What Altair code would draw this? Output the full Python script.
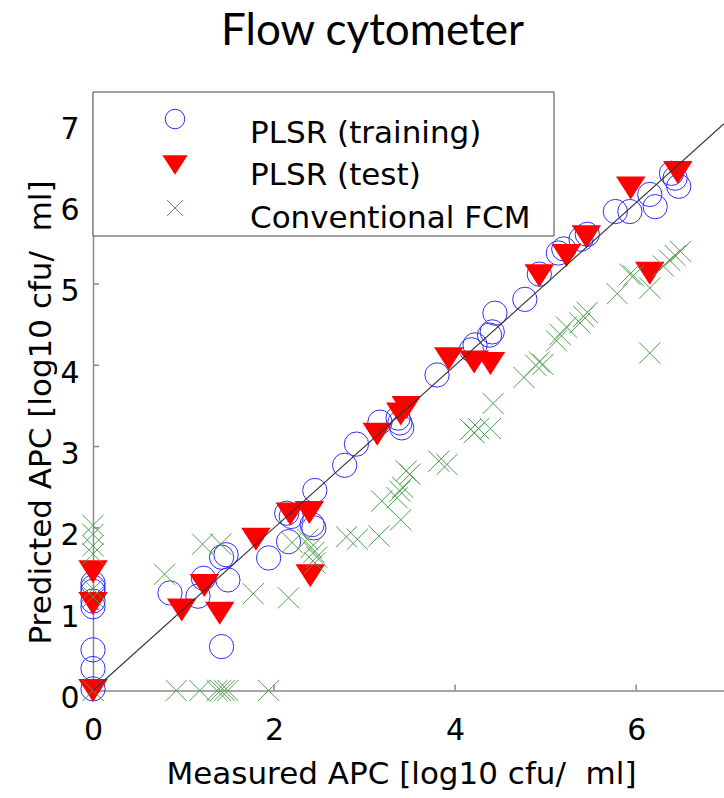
import altair as alt
import pandas as pd

# Measured vs predicted APC (log10 cfu/ml)
train_measured = [0, 0, 0, 0, 0, 0, 0, 0,
                  0.85, 1.16, 1.22, 1.42, 1.42, 1.47, 1.49, 1.94, 2.16, 2.14, 2.19, 2.42,
                  2.44, 2.45, 2.78, 2.91, 3.17, 3.37, 3.39, 3.41, 3.80, 4.18,
                  4.22, 4.38, 4.41, 4.44, 4.77, 4.93, 5.14, 5.20, 5.39, 5.46,
                  5.77, 5.93, 6.15, 6.21, 6.39, 6.47, 6.43]
train_predicted = [1.32, 1.27, 1.22, 1.10, 1.03, 0.50, 0.27, 0.02,
                   1.20, 1.16, 1.38, 0.54, 1.64, 1.67, 1.36, 1.63, 1.83, 2.18, 2.14, 2.04,
                   2.00, 2.46, 2.77, 3.03, 3.30, 3.35, 3.29, 3.23, 3.88, 4.19,
                   4.25, 4.37, 4.41, 4.64, 4.81, 5.12, 5.38, 5.43, 5.55, 5.61,
                   5.89, 5.89, 6.10, 5.95, 6.36, 6.20, 6.30]

test_measured = [0, 0, 0, 0.98, 1.23, 1.40, 1.80, 2.18, 2.39, 2.40, 3.14,
                 3.40, 3.46, 3.93, 4.21, 4.39, 4.93, 5.23, 5.45, 5.94, 6.15, 6.46]
test_predicted = [1.46, 1.07, 0.0, 0.99, 1.29, 0.95, 1.86, 2.17, 2.19, 1.41, 3.15,
                  3.40, 3.48, 4.08, 4.04, 4.02, 5.10, 5.35, 5.58, 6.18, 5.13, 6.37]

fcm_measured = [0, 0, 0, 0, 0, 0, 0,
                0.92, 1.18, 1.37, 1.41, 1.45, 1.49, 1.94,
                0.79, 1.21, 1.41, 1.77, 2.16, 2.20,
                2.37, 2.41, 2.44, 2.47, 2.45,
                2.80, 2.92, 3.16, 3.19, 3.36, 3.39, 3.42, 3.40, 3.46, 3.50,
                3.82, 3.91, 4.17, 4.21, 4.26, 4.39, 4.42,
                4.76, 4.89, 4.93, 4.97, 5.12, 5.16, 5.23, 5.38, 5.42, 5.46,
                5.79, 5.93, 5.97, 6.15, 6.30, 6.37, 6.43, 6.49, 6.15]
fcm_predicted = [2.03, 1.92, 1.78, 1.68, 1.25, 1.15, 0.0,
                 0, 0, 0, 0, 0, 0, 0,
                 1.43, 1.80, 1.80, 1.19, 1.14, 1.82,
                 1.86, 1.76, 1.70, 1.64, 1.57,
                 1.89, 1.86, 1.90, 2.33, 2.37, 2.45, 2.50, 2.10, 2.70, 2.66,
                 2.82, 2.78, 3.21, 3.17, 3.22, 3.22, 3.53,
                 3.85, 4.00, 4.04, 4.01, 4.30, 4.38, 4.47, 4.52, 4.60, 4.65,
                 4.88, 5.12, 5.10, 4.95, 5.22, 5.29, 5.35, 5.40, 4.15]

# y = x reference line
diag_values = [0, 6.97]

x_ticks = [0, 2, 4, 6]
y_ticks = [0, 1, 2, 3, 4, 5, 6, 7]
x_inner_ticks = [2, 4, 6]
y_inner_ticks = [1, 2, 3, 4, 5, 6, 7]
x_range = [0, 6.97]
y_range = [0, 7.36]

title_text = "Flow cytometer"
legend_labels = ["PLSR (training)", "PLSR (test)", "Conventional FCM"]

W, H = 631, 598.5
FONT = "DejaVu Sans"
AXIS_GRAY = "#8a8a8a"
TRI = "M-1,-0.78L1,-0.78L0,0.78Z"
XMARK = "M-1,-1L1,1M-1,1L1,-1"
BLUE, RED, GREEN = "#2f2fff", "#ff0000", "#4f9f4f"

train = pd.DataFrame({"measured": train_measured, "predicted": train_predicted})
test = pd.DataFrame({"measured": test_measured, "predicted": test_predicted})
fcm = pd.DataFrame({"measured": fcm_measured, "predicted": fcm_predicted})
diag = pd.DataFrame({"measured": diag_values, "predicted": diag_values})
xt = pd.DataFrame({"measured": x_inner_ticks})
yt = pd.DataFrame({"predicted": y_inner_ticks})
one = pd.DataFrame({"k": [0]})

xs = alt.Scale(domain=x_range, nice=False, zero=False)
ys = alt.Scale(domain=y_range, nice=False, zero=False)

x_axis = alt.Axis(
    values=x_ticks, format="d", grid=False, ticks=False, tickSize=0,
    labelFont=FONT, labelFontSize=30, labelColor="black", labelPadding=25,
    labelFlush=False, labelOverlap=False,
    domainColor=AXIS_GRAY, domainWidth=1.5,
    title="Measured APC [log10 cfu/\u00a0 ml]", titleFont=FONT, titleFontSize=31,
    titleFontWeight="normal", titleColor="black", titleX=308, titleY=92.5,
    titleAlign="center", titleBaseline="alphabetic",
)
y_axis = alt.Axis(
    values=y_ticks, format="d", grid=False, ticks=False, tickSize=0,
    labelFont=FONT, labelFontSize=30, labelColor="black", labelPadding=14,
    labelOffset=8, labelFlush=False, labelOverlap=False,
    domainColor=AXIS_GRAY, domainWidth=1.5,
    title="Predicted APC [log10 cfu/\u00a0 ml]", titleFont=FONT, titleFontSize=31,
    titleFontWeight="normal", titleColor="black", titleX=-43, titleY=320,
    titleAngle=270, titleAlign="center", titleBaseline="alphabetic",
)

X = alt.X("measured:Q", scale=xs, axis=x_axis)
Y = alt.Y("predicted:Q", scale=ys, axis=y_axis)

# inward tick marks
xtick_layer = alt.Chart(xt).mark_rule(color=AXIS_GRAY, strokeWidth=1.5).encode(
    x=X, y=alt.value(H), y2=alt.value(H - 6))
ytick_layer = alt.Chart(yt).mark_rule(color=AXIS_GRAY, strokeWidth=1.5).encode(
    y=Y, x=alt.value(0), x2=alt.value(6))

circles = alt.Chart(train).mark_point(
    shape="circle", size=590, filled=False, stroke=BLUE, strokeWidth=1, opacity=1
).encode(x=X, y=Y)
triangles = alt.Chart(test).mark_point(
    shape=TRI, size=870, filled=True, fill=RED, strokeWidth=0, opacity=1
).encode(x=X, y=Y)
crosses = alt.Chart(fcm).mark_point(
    shape=XMARK, size=450, filled=False, stroke=GREEN, strokeWidth=1, opacity=1
).encode(x=X, y=Y)
line = alt.Chart(diag).mark_line(color="#333333", strokeWidth=1.1).encode(x=X, y=Y)

# legend box in the upper-left corner of the axes
legend_box = alt.Chart(one).mark_rect(
    fill="white", stroke="#444444", strokeWidth=1
).encode(x=alt.value(0), x2=alt.value(461), y=alt.value(0), y2=alt.value(144))

sym_x = 82
legend_syms = [
    alt.Chart(one).mark_point(shape="circle", size=380, filled=False, stroke=BLUE,
                              strokeWidth=1, opacity=1)
    .encode(x=alt.value(sym_x), y=alt.value(27)),
    alt.Chart(one).mark_point(shape=TRI, size=640, filled=True, fill=RED,
                              strokeWidth=0, opacity=1)
    .encode(x=alt.value(sym_x), y=alt.value(73)),
    alt.Chart(one).mark_point(shape=XMARK, size=256, filled=False, stroke=GREEN,
                              strokeWidth=1, opacity=1)
    .encode(x=alt.value(sym_x), y=alt.value(116)),
]
legend_text = [
    alt.Chart(one).mark_text(text=lab, align="left", baseline="alphabetic",
                             font=FONT, fontSize=31, color="black")
    .encode(x=alt.value(157), y=alt.value(yy))
    for lab, yy in zip(legend_labels, [51, 93, 136])
]

# chart heading above the axes
heading = alt.Chart(one).mark_text(
    text=title_text, align="center", baseline="alphabetic",
    font="Lato", fontSize=44, color="black"
).encode(x=alt.value(279.5), y=alt.value(-47))

chart = alt.layer(
    xtick_layer, ytick_layer, circles, triangles, crosses, line,
    legend_box, *legend_syms, *legend_text, heading,
).properties(
    width=W, height=H,
    padding={"left": 93, "top": 92, "right": 0, "bottom": 107.5},
    autosize=alt.AutoSizeParams(type="none"),
    background="white",
).configure_view(stroke="transparent")

chart.save("out.html", embed_options={"renderer": "svg", "actions": False})
